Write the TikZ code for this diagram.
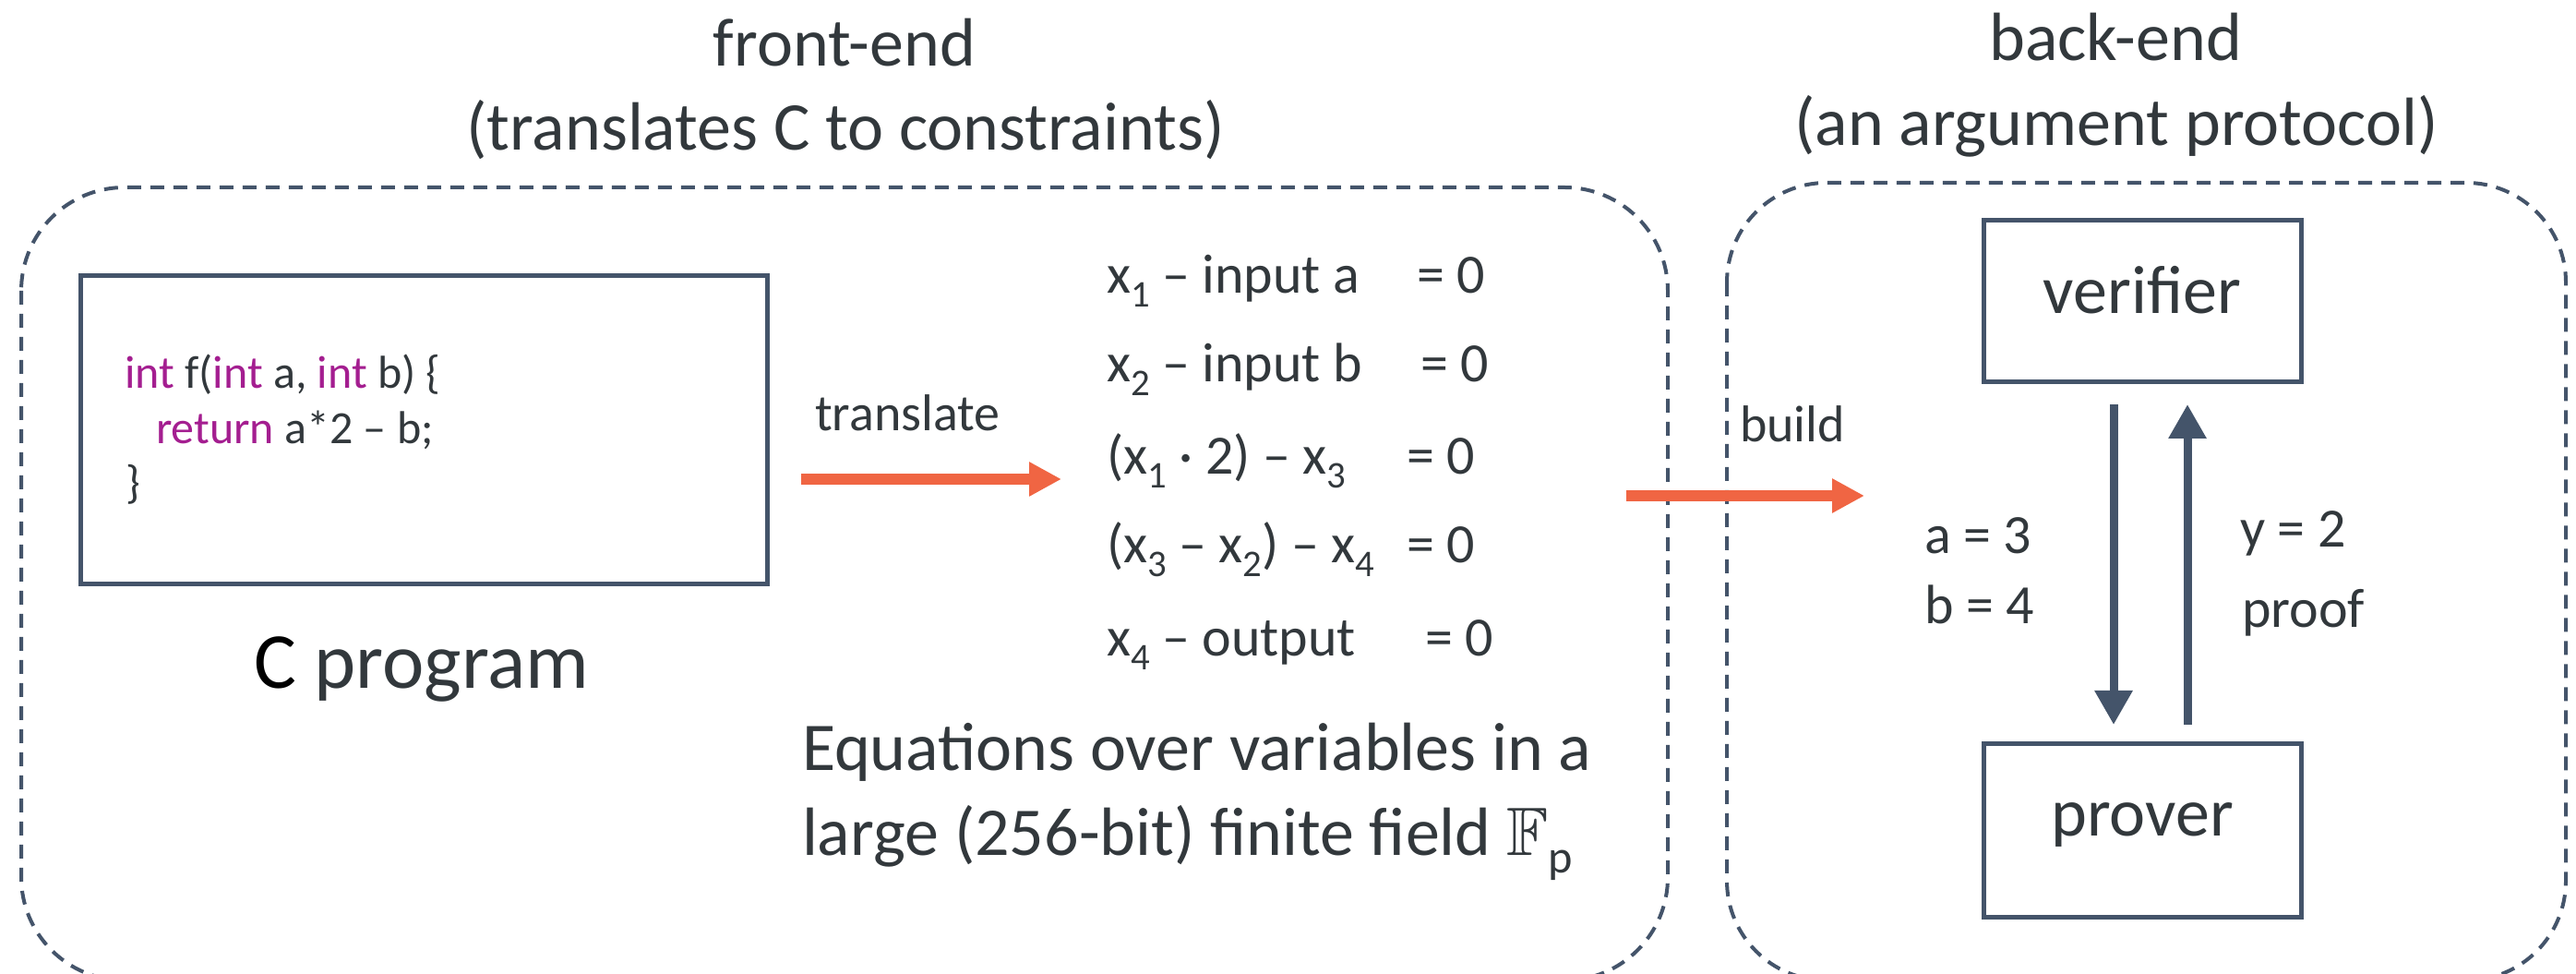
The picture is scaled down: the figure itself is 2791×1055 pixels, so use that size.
\documentclass[tikz,border=0pt]{standalone}
\usepackage{fontspec}
\setmainfont{Carlito}
\usepackage{amssymb}
\usepackage{graphicx}
\usetikzlibrary{arrows.meta}
\definecolor{txt}{RGB}{50,56,60}
\definecolor{slate}{RGB}{68,84,106}
\definecolor{orng}{RGB}{240,101,67}
\definecolor{kw}{RGB}{164,30,144}
\newcommand\lowsub[1]{\raisebox{-0.25em}{\scalebox{0.68}{#1}}}
\begin{document}
\begin{tikzpicture}[x=0.25pt,y=-0.25pt,
  every node/.style={inner sep=0pt, outer sep=0pt, text=txt},
  title/.style={font=\fontsize{18.5}{22}\selectfont, anchor=base},
  eq/.style={font=\fontsize{15}{18}\selectfont, anchor=base west},
  big/.style={font=\fontsize{18.5}{22}\selectfont, anchor=base west},
  lbl/.style={font=\fontsize{14}{17}\selectfont, anchor=base west},
  code/.style={font=\fontsize{12.5}{15}\selectfont, anchor=base west},
  frame/.style={draw=slate, line width=1pt, dash pattern=on 3.75pt off 2.5pt},
  solidbox/.style={draw=slate, line width=1.25pt},
  orarrow/.style={draw=orng, line width=3pt, -{Triangle[length=8.75pt,width=8.75pt]}},
  slarrow/.style={draw=slate, line width=2.25pt, -{Triangle[length=9.25pt,width=9.75pt]}}]
\useasboundingbox (0,0) rectangle (2791,1055);
\clip (0,0) rectangle (2791,1055);

% dashed regions
\draw[frame, rounded corners=28pt] (23,203) rectangle (1807,1062);
\draw[frame, rounded corners=27pt] (1871,198) rectangle (2780,1062);

% titles
\node[title] (t1) at (915,72) {front-end};
\node[title] (t2) at (916,163) {(translates C to constraints)};
\node[title] (t3) at (2292,66) {back-end};
\node[title] (t4) at (2293,158) {(an argument protocol)};

% C program box
\node[solidbox, minimum width=186pt, minimum height=83.5pt] (cbox) at (459,466) {};
\node[code] (c1) at (135,421) {{\color{kw}int} f({\color{kw}int} a, {\color{kw}int} b) \{};
\node[code] (c2) at (169,481) {{\color{kw}return} a*2 – b;};
\node[code] (c3) at (136,540) {\}};
\node[font=\fontsize{21.5}{25}\selectfont, anchor=base] (cprog) at (457,746) {{\color{black}C} program};

% translate arrow
\node[lbl] (trl) at (883,467) {translate};
\coordinate (trs) at (868,519);
\coordinate (tre) at (1150,519);
\draw[orarrow] (trs) -- (tre);

% equations
\node[eq] (e1) at (1199,318) {x\lowsub{1} – input a};
\node[eq] (e1r) at (1535,318) {= 0};
\node[eq] (e2) at (1199,414) {x\lowsub{2} – input b};
\node[eq] (e2r) at (1539,414) {= 0};
\node[eq] (e3) at (1199,514) {(x\lowsub{1} · 2) – x\lowsub{3}};
\node[eq] (e3r) at (1524,514) {= 0};
\node[eq] (e4) at (1199,610) {(x\lowsub{3} – x\lowsub{2}) – x\lowsub{4}};
\node[eq] (e4r) at (1524,610) {= 0};
\node[eq] (e5) at (1199,711) {x\lowsub{4} – output};
\node[eq] (e5r) at (1544,711) {= 0};

\node[big] (q1) at (869,835) {Equations over variables in a};
\node[big] (q2) at (869,927) {large (256-bit) finite field $\mathbb{F}$\lowsub{p}};

% build arrow
\node[lbl] (bld) at (1885,479) {build};
\coordinate (bs) at (1762,537);
\coordinate (be) at (2020,537);
\draw[orarrow] (bs) -- (be);

% verifier / prover
\node[solidbox, minimum width=86pt, minimum height=43.75pt, font=\fontsize{18.5}{22}\selectfont,
  text height=10pt, text depth=3.25pt] (ver) at (2321,326.5) {verifier};
\node[solidbox, minimum width=86pt, minimum height=47pt, font=\fontsize{18.5}{22}\selectfont,
  text height=8pt, text depth=5pt] (prv) at (2321,900) {prover};

\coordinate (ds) at (2290,438);
\coordinate (de) at (2290,785);
\coordinate (us) at (2370,785);
\coordinate (ue) at (2370,438);
\draw[slarrow] (ds) -- (de);
\draw[slarrow] (us) -- (ue);

\node[eq] (la) at (2085,600) {a = 3};
\node[eq] (lb) at (2085,676) {b = 4};
\node[eq] (ly) at (2427,593) {y = 2};
\node[eq] (lp) at (2429,680) {proof};
\end{tikzpicture}
\end{document}
